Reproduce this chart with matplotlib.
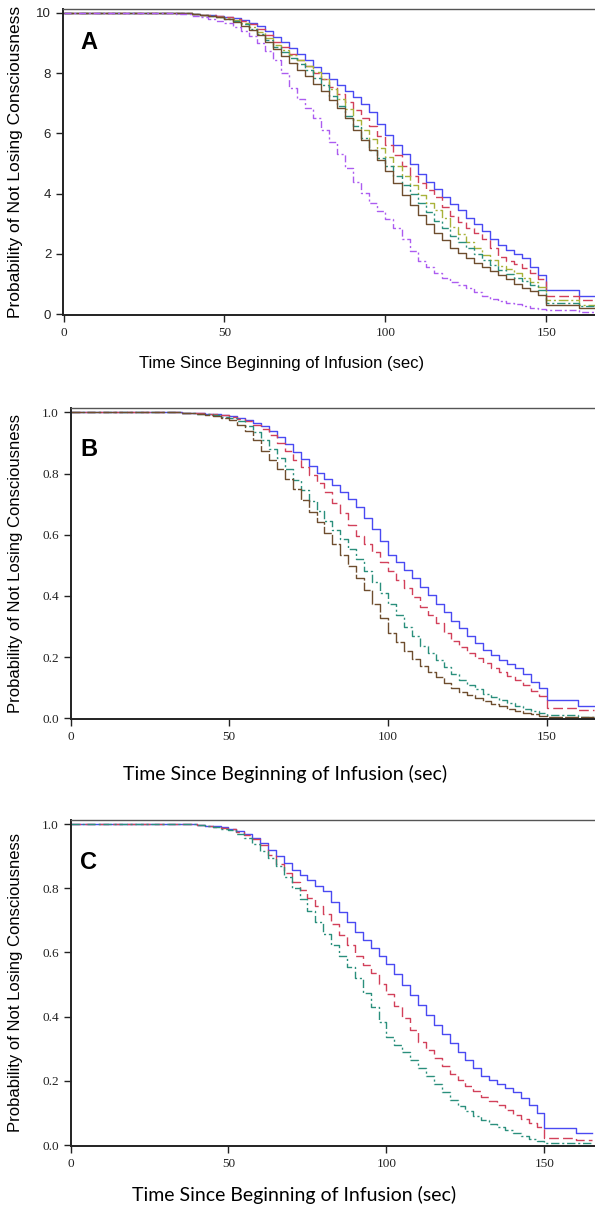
import numpy as np
import matplotlib
matplotlib.use("Agg")
import matplotlib.pyplot as plt

t = [0, 30, 35, 40, 42.5, 45, 47.5, 50, 52.5, 55, 57.5, 60, 62.5, 65, 67.5, 70, 72.5,
     75, 77.5, 80, 82.5, 85, 87.5, 90, 92.5, 95, 97.5, 100, 102.5, 105, 107.5, 110,
     112.5, 115, 117.5, 120, 122.5, 125, 127.5, 130, 132.5, 135, 137.5, 140, 142.5,
     145, 147.5, 150, 160, 165]

# panel A (y axis drawn 0..10)
a_blue = [10, 10, 9.99, 9.96, 9.94, 9.92, 9.9, 9.87, 9.82, 9.76, 9.68, 9.55, 9.4, 9.2,
          9.03, 8.82, 8.62, 8.42, 8.22, 8.02, 7.82, 7.62, 7.42, 7.22, 6.98, 6.7, 6.3,
          5.95, 5.62, 5.3, 4.98, 4.65, 4.4, 4.15, 3.9, 3.65, 3.45, 3.2, 3.0, 2.75, 2.5,
          2.3, 2.12, 1.98, 1.85, 1.55, 1.3, 0.8, 0.6, 0.6]
a_red = [10, 10, 9.99, 9.96, 9.94, 9.92, 9.89, 9.85, 9.79, 9.72, 9.62, 9.45, 9.25, 9.05,
         8.86, 8.65, 8.45, 8.25, 8.02, 7.8, 7.55, 7.3, 7.05, 6.78, 6.5, 6.25, 5.9, 5.6,
         5.28, 4.9, 4.6, 4.35, 4.12, 3.88, 3.55, 3.25, 3.05, 2.85, 2.68, 2.5, 2.2, 1.9,
         1.75, 1.65, 1.52, 1.35, 1.15, 0.6, 0.45, 0.45]
a_olive = [10, 10, 9.99, 9.95, 9.93, 9.9, 9.87, 9.82, 9.75, 9.65, 9.53, 9.38, 9.18, 8.95,
           8.78, 8.6, 8.43, 8.25, 8.05, 7.8, 7.48, 7.15, 6.8, 6.45, 6.12, 5.8, 5.5, 5.2,
           4.9, 4.6, 4.28, 3.95, 3.7, 3.45, 3.18, 2.9, 2.65, 2.4, 2.18, 1.95, 1.78, 1.6,
           1.48, 1.35, 1.2, 1.05, 0.9, 0.45, 0.3, 0.3]
a_teal = [10, 10, 9.99, 9.95, 9.93, 9.9, 9.86, 9.8, 9.72, 9.62, 9.48, 9.3, 9.1, 8.88,
          8.7, 8.5, 8.3, 8.1, 7.85, 7.6, 7.25, 6.9, 6.58, 6.25, 5.85, 5.45, 5.18, 4.9,
          4.6, 4.3, 4.0, 3.7, 3.4, 3.1, 2.85, 2.6, 2.4, 2.2, 2.0, 1.8, 1.62, 1.45, 1.32,
          1.2, 1.08, 0.95, 0.8, 0.35, 0.25, 0.25]
a_brown = [10, 10, 9.99, 9.95, 9.93, 9.9, 9.86, 9.8, 9.7, 9.58, 9.43, 9.25, 9.03, 8.8,
           8.58, 8.35, 8.12, 7.9, 7.65, 7.4, 7.12, 6.85, 6.5, 6.1, 5.78, 5.45, 5.1, 4.75,
           4.35, 3.95, 3.62, 3.3, 3.0, 2.7, 2.45, 2.2, 2.02, 1.85, 1.7, 1.55, 1.42, 1.3,
           1.15, 1.0, 0.88, 0.75, 0.62, 0.3, 0.2, 0.2]
a_purple = [10, 10, 9.97, 9.9, 9.85, 9.8, 9.73, 9.65, 9.54, 9.4, 9.22, 8.99, 8.75, 8.45,
            8.0, 7.5, 7.15, 6.85, 6.5, 6.1, 5.7, 5.3, 4.85, 4.4, 4.02, 3.7, 3.42, 3.15,
            2.85, 2.5, 2.1, 1.75, 1.55, 1.35, 1.2, 1.05, 0.95, 0.85, 0.72, 0.6, 0.5, 0.43,
            0.37, 0.32, 0.26, 0.2, 0.17, 0.14, 0.06, 0.04]

# panel B
b_blue = [1, 1, 0.999, 0.997, 0.995, 0.993, 0.99, 0.987, 0.982, 0.975, 0.966, 0.955, 0.94,
          0.92, 0.895, 0.87, 0.848, 0.825, 0.803, 0.782, 0.762, 0.74, 0.716, 0.69, 0.655,
          0.62, 0.578, 0.535, 0.51, 0.485, 0.458, 0.43, 0.402, 0.375, 0.346, 0.318, 0.294,
          0.27, 0.247, 0.224, 0.207, 0.19, 0.178, 0.165, 0.145, 0.12, 0.1, 0.06, 0.04, 0.04]
b_red = [1, 1, 0.999, 0.997, 0.995, 0.993, 0.99, 0.985, 0.978, 0.97, 0.958, 0.945, 0.925,
         0.9, 0.872, 0.845, 0.82, 0.795, 0.768, 0.74, 0.705, 0.67, 0.632, 0.595, 0.57,
         0.545, 0.512, 0.48, 0.452, 0.425, 0.395, 0.365, 0.338, 0.31, 0.28, 0.252, 0.233,
         0.215, 0.197, 0.18, 0.165, 0.15, 0.137, 0.124, 0.108, 0.09, 0.072, 0.033, 0.026,
         0.026]
b_teal = [1, 1, 0.999, 0.996, 0.993, 0.99, 0.986, 0.98, 0.97, 0.955, 0.935, 0.91, 0.88,
          0.85, 0.815, 0.78, 0.745, 0.71, 0.678, 0.645, 0.615, 0.585, 0.552, 0.52, 0.482,
          0.445, 0.41, 0.375, 0.338, 0.3, 0.268, 0.235, 0.212, 0.19, 0.167, 0.145, 0.127,
          0.11, 0.095, 0.08, 0.07, 0.06, 0.05, 0.04, 0.032, 0.025, 0.018, 0.012, 0.005,
          0.005]
b_brown = [1, 1, 0.998, 0.995, 0.992, 0.988, 0.982, 0.975, 0.96, 0.94, 0.91, 0.875, 0.845,
           0.815, 0.782, 0.75, 0.712, 0.675, 0.64, 0.605, 0.57, 0.535, 0.498, 0.46, 0.418,
           0.375, 0.328, 0.28, 0.25, 0.22, 0.195, 0.172, 0.153, 0.135, 0.117, 0.1, 0.087,
           0.075, 0.066, 0.057, 0.048, 0.04, 0.032, 0.025, 0.019, 0.013, 0.009, 0.006,
           0.003, 0.003]

# panel C
c_blue = [1, 1, 0.999, 0.997, 0.995, 0.993, 0.99, 0.985, 0.978, 0.97, 0.957, 0.94, 0.92,
          0.9, 0.877, 0.857, 0.84, 0.825, 0.808, 0.79, 0.758, 0.725, 0.695, 0.665, 0.64,
          0.615, 0.59, 0.565, 0.532, 0.5, 0.468, 0.435, 0.405, 0.375, 0.346, 0.317, 0.29,
          0.265, 0.24, 0.215, 0.202, 0.19, 0.178, 0.165, 0.148, 0.125, 0.1, 0.054, 0.039,
          0.039]
c_red = [1, 1, 0.999, 0.997, 0.995, 0.992, 0.988, 0.983, 0.975, 0.965, 0.952, 0.935, 0.905,
         0.875, 0.848, 0.82, 0.795, 0.77, 0.745, 0.72, 0.688, 0.655, 0.622, 0.59, 0.562,
         0.535, 0.502, 0.47, 0.432, 0.395, 0.358, 0.32, 0.295, 0.27, 0.246, 0.222, 0.203,
         0.185, 0.167, 0.15, 0.137, 0.125, 0.11, 0.095, 0.082, 0.07, 0.055, 0.023, 0.015,
         0.015]
c_teal = [1, 1, 0.999, 0.996, 0.993, 0.99, 0.986, 0.98, 0.97, 0.955, 0.937, 0.915, 0.893,
          0.87, 0.835, 0.8, 0.765, 0.73, 0.694, 0.658, 0.624, 0.59, 0.555, 0.52, 0.475,
          0.43, 0.382, 0.335, 0.312, 0.29, 0.265, 0.24, 0.215, 0.19, 0.165, 0.14, 0.122,
          0.105, 0.091, 0.078, 0.067, 0.057, 0.047, 0.037, 0.028, 0.02, 0.013, 0.007,
          0.005, 0.005]

x_ticks = [0, 50, 100, 150]
a_yticks = [0, 2, 4, 6, 8, 10]
bc_yticks = [0.0, 0.2, 0.4, 0.6, 0.8, 1.0]
ylabel = "Probability of Not Losing Consciousness"
xlabel = "Time Since Beginning of Infusion (sec)"

BLUE = "#4a4af2"
RED = "#d2405a"
OLIVE = "#a9b23a"
TEAL = "#2a8f7c"
BROWN = "#6e4d2e"
PURPLE = "#ac5cf0"

W, H = 595, 1210
fig = plt.figure(figsize=(W / 100, H / 100), dpi=100)


def make_axes(left, top, bottom):
    return fig.add_axes([left / W, 1 - bottom / H, 1 - left / W, (bottom - top) / H])


def style(ax, letter, lpos, ytick_font, ylab_x, ylab_size, xlab_font, xlab_size, xlab_pos):
    ax.spines["right"].set_visible(False)
    ax.spines["top"].set_color("#555555")
    ax.spines["top"].set_linewidth(1.0)
    for s in ["left", "bottom"]:
        ax.spines[s].set_color("#222222")
        ax.spines[s].set_linewidth(1.4)
    ax.tick_params(direction="out", length=5, width=1.0, colors="#222222", labelsize=9.5)
    ax.set_xticks(x_ticks)
    for lb in ax.get_xticklabels():
        lb.set_family("Liberation Serif")
    for lb in ax.get_yticklabels():
        lb.set_family(ytick_font)
    ax.text(lpos[0], lpos[1], letter, transform=ax.transAxes, fontsize=17,
            fontweight="bold", family="Liberation Sans", va="center")
    ax.set_ylabel(ylabel, family="Liberation Sans", fontsize=ylab_size)
    ax.yaxis.set_label_coords(ylab_x, 0.5)
    ax.set_xlabel(xlabel, family=xlab_font, fontsize=xlab_size)
    ax.xaxis.set_label_coords(xlab_pos[0], xlab_pos[1])


# ---- panel A
axA = make_axes(63, 9, 315)
axA.step(t, a_blue, where="post", color=BLUE, lw=1.0)
axA.step(t, a_red, where="post", color=RED, lw=1.0, dashes=(7, 3))
axA.step(t, a_olive, where="post", color=OLIVE, lw=1.0, dashes=(7, 2, 1.5, 2))
axA.step(t, a_teal, where="post", color=TEAL, lw=1.0, dashes=(6, 2, 1.5, 2))
axA.step(t, a_brown, where="post", color=BROWN, lw=1.0)
axA.step(t, a_purple, where="post", color=PURPLE, lw=1.0, dashes=(5, 2, 1.5, 2))
axA.set_xlim(-0.16, 165.1)
axA.set_ylim(-0.033, 10.13)
axA.set_yticks(a_yticks)
style(axA, "A", (0.032, 0.889), "Liberation Sans", -0.075, 12.5,
      "Liberation Sans", 12, (0.41, -0.135))

# ---- panel B
axB = make_axes(70.5, 408, 719)
axB.step(t, b_blue, where="post", color=BLUE, lw=1.0)
axB.step(t, b_red, where="post", color=RED, lw=1.0, dashes=(7, 3))
axB.step(t, b_teal, where="post", color=TEAL, lw=1.0, dashes=(6, 2, 1.5, 2))
axB.step(t, b_brown, where="post", color=BROWN, lw=1.0, dashes=(10, 1.5))
axB.set_xlim(0, 165.2)
axB.set_ylim(-0.002, 1.014)
axB.set_yticks(bc_yticks)
axB.set_yticklabels(["%.1f" % v for v in bc_yticks])
style(axB, "B", (0.018, 0.865), "Liberation Serif", -0.09, 12,
      "Lato", 14, (0.409, -0.148))

# ---- panel C
axC = make_axes(70.5, 820, 1146)
axC.step(t, c_blue, where="post", color=BLUE, lw=1.0)
axC.step(t, c_red, where="post", color=RED, lw=1.0, dashes=(7, 3))
axC.step(t, c_teal, where="post", color=TEAL, lw=1.0, dashes=(6, 2, 1.5, 2))
axC.set_xlim(0, 166)
axC.set_ylim(-0.003, 1.0125)
axC.set_yticks(bc_yticks)
axC.set_yticklabels(["%.1f" % v for v in bc_yticks])
style(axC, "C", (0.018, 0.871), "Liberation Serif", -0.09, 12,
      "Lato", 14, (0.426, -0.122))

fig.savefig("out.png", dpi=100)
